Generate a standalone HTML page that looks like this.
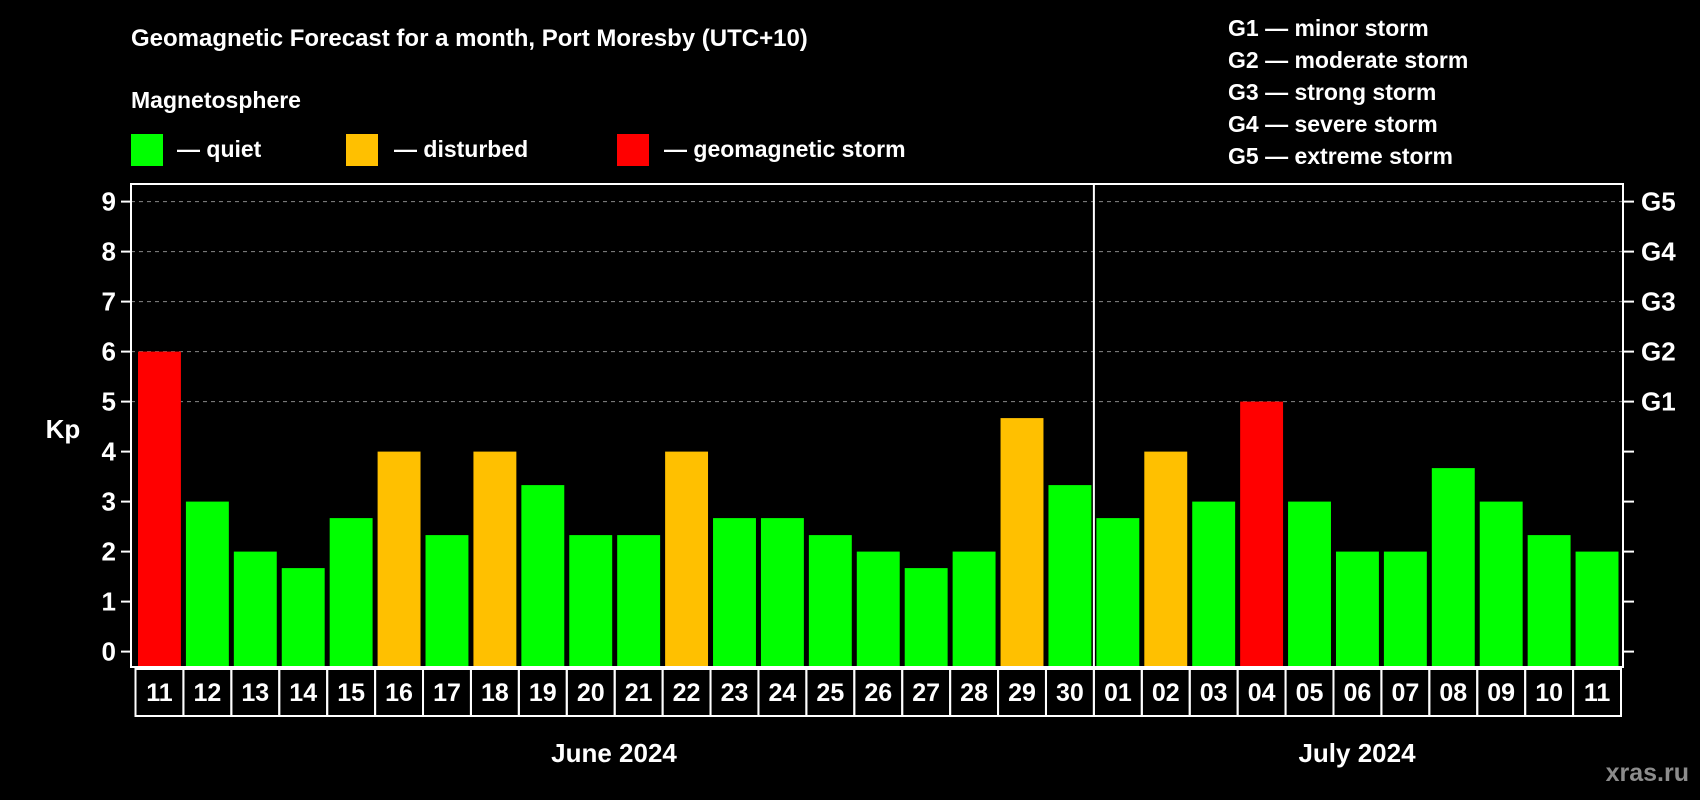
<!DOCTYPE html>
<html><head><meta charset="utf-8"><style>
html,body{margin:0;padding:0;background:#000;}
svg{display:block;font-family:"Liberation Sans",Arial,sans-serif;font-weight:bold;}
</style></head><body>
<svg id="chart" width="1700" height="800" viewBox="0 0 1700 800">
<text x="131" y="46" fill="#fff" font-size="24">Geomagnetic Forecast for a month, Port Moresby (UTC+10)</text>
<text x="131" y="108" fill="#fff" font-size="23">Magnetosphere</text>
<rect x="131" y="134" width="32" height="32" fill="#00ff00"/>
<text x="177" y="157" fill="#fff" font-size="23">— quiet</text>
<rect x="346" y="134" width="32" height="32" fill="#ffc000"/>
<text x="394" y="157" fill="#fff" font-size="23">— disturbed</text>
<rect x="617" y="134" width="32" height="32" fill="#ff0000"/>
<text x="664" y="157" fill="#fff" font-size="23">— geomagnetic storm</text>
<g fill="#fff" font-size="23">
<text x="1228" y="36">G1 — minor storm</text>
<text x="1228" y="68">G2 — moderate storm</text>
<text x="1228" y="100">G3 — strong storm</text>
<text x="1228" y="132">G4 — severe storm</text>
<text x="1228" y="164">G5 — extreme storm</text>
</g>
<text x="63" y="438" fill="#fff" font-size="26" text-anchor="middle">Kp</text>
<g id="grid"></g>
<g id="bars"></g>
<rect x="131" y="184" width="1492" height="483" fill="none" stroke="#fff" stroke-width="2"/>
<line id="divider" y1="184" y2="667" stroke="#fff" stroke-width="2"/>
<g id="axes"></g>
<g id="days"></g>
<text x="614" y="762" fill="#fff" font-size="26" text-anchor="middle">June 2024</text>
<text x="1357" y="762" fill="#fff" font-size="26" text-anchor="middle">July 2024</text>
<text x="1689" y="781" fill="#8c8c8c" font-size="25" text-anchor="end">xras.ru</text>
</svg>
<script>
const days = ["11","12","13","14","15","16","17","18","19","20","21","22","23","24","25","26","27","28","29","30","01","02","03","04","05","06","07","08","09","10","11"];
const kpValues = [6,3,2,1.67,2.67,4,2.33,4,3.33,2.33,2.33,4,2.67,2.67,2.33,2,1.67,2,4.67,3.33,2.67,4,3,5,3,2,2,3.67,3,2.33,2];
const yTicks = [0,1,2,3,4,5,6,7,8,9];
const gLabels = ["","","","","","G1","G2","G3","G4","G5"];
const NS="http://www.w3.org/2000/svg";
const x0=135.5, x1=1621, y0=651.6, perKp=50;
const cw=(x1-x0)/days.length;
const yS=v=>y0-v*perKp;
const xS=i=>x0+i*cw;
function mk(t,a,p){const e=document.createElementNS(NS,t);for(const k in a)e.setAttribute(k,a[k]);p.appendChild(e);return e;}
const grid=document.getElementById('grid'),axes=document.getElementById('axes'),bars=document.getElementById('bars'),dg=document.getElementById('days');
yTicks.forEach((v,i)=>{
  const y=yS(v);
  if(v>=5){const l=mk('line',{x1:131,x2:1623,y1:y,y2:y,stroke:'#888','stroke-dasharray':'4 4','stroke-width':1},grid);
  
  }
  const t1=mk('line',{x1:121,x2:131,y1:y,y2:y,stroke:'#fff','stroke-width':2},axes);
  
  
  const t2=mk('line',{x1:1623,x2:1634,y1:y,y2:y,stroke:'#fff','stroke-width':2},axes);
  
  
  const tl=mk('text',{x:116,y:y+9,fill:'#fff','font-size':26,'text-anchor':'end'},axes);
  tl.textContent=v;
  
  
  if(gLabels[i]){const g=mk('text',{x:1641,y:y+9,fill:'#fff','font-size':26},axes);
  g.textContent=gLabels[i];
  
  }
});
kpValues.forEach((v,i)=>{
  const col=v>=5?'#ff0000':(v>=4?'#ffc000':'#00ff00');
  const b=mk('rect',{x:xS(i)+2.5,y:yS(v),width:cw-5,height:667-yS(v),fill:col},bars);
  
  
});
days.forEach((d,i)=>{
  const r=mk('rect',{x:xS(i),y:669,width:cw,height:47,fill:'none',stroke:'#fff','stroke-width':2},dg);
  
  
  const t=mk('text',{x:xS(i)+cw/2,y:701,fill:'#fff','font-size':25,'text-anchor':'middle'},dg);
  t.textContent=d;
  
  
});
const div=document.getElementById('divider');
const jIdx=days.indexOf("01");
div.setAttribute('x1',xS(jIdx));div.setAttribute('x2',xS(jIdx));
</script>
</body></html>
